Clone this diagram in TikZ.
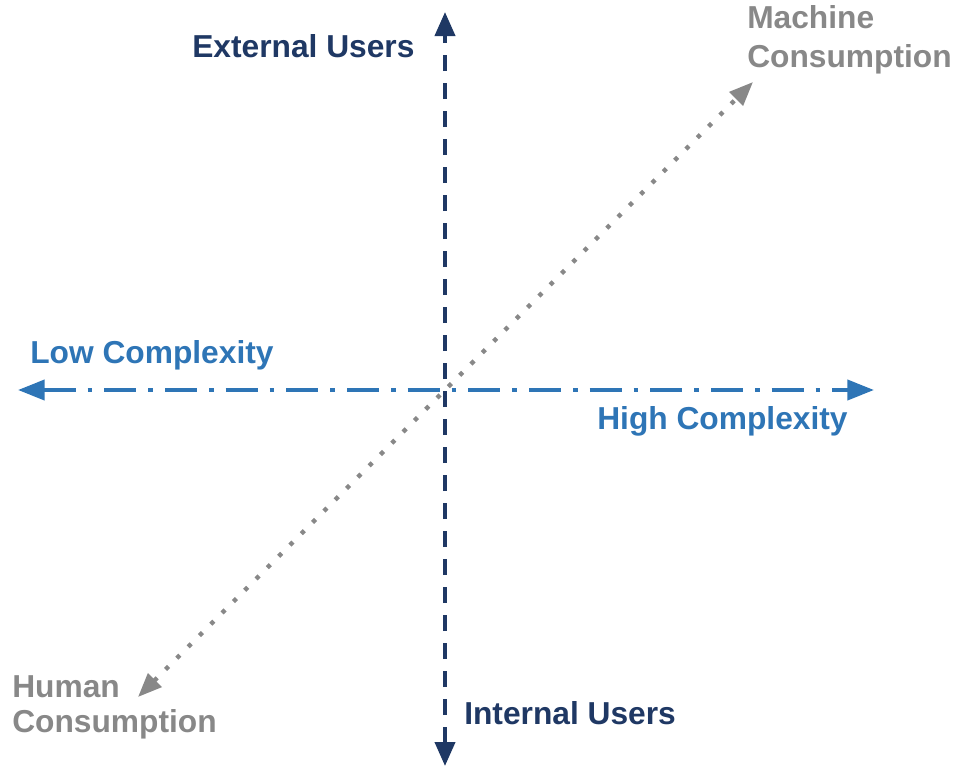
\documentclass[tikz,border=0pt]{standalone}
\usepackage{fontspec}
\setmainfont{Liberation Sans}
\usetikzlibrary{arrows.meta}
\definecolor{navy}{HTML}{1F3864}
\definecolor{axisblue}{HTML}{2E75B6}
\definecolor{axisgrey}{HTML}{888888}
\tikzset{
  lbl/.style={inner sep=0pt, font=\bfseries\fontsize{23.8pt}{29pt}\selectfont},
  vaxis/.style={draw=navy, line width=3pt, dash pattern=on 12pt off 9pt,
    {Triangle[length=18pt,width=15pt]}-{Triangle[length=18pt,width=15pt]}},
  haxis/.style={draw=axisblue, line width=3pt, dash pattern=on 24pt off 9pt on 3.5pt off 9pt,
    {Triangle[length=20pt,width=15pt]}-{Triangle[length=20pt,width=15pt]}},
  daxis/.style={draw=axisgrey, line width=3.2pt, dash pattern=on 3.2pt off 8.8pt,
    {Triangle[length=18pt,width=14pt]}-{Triangle[length=18pt,width=14pt]}}
}
\begin{document}
\begin{tikzpicture}[x=0.75pt,y=-0.75pt]
\useasboundingbox (0,0) rectangle (961,768);
\coordinate (top) at (445,12);
\coordinate (bot) at (445,766);
\coordinate (left) at (18,390);
\coordinate (right) at (874,390);
\coordinate (ne) at (753,82);
\coordinate (sw) at (138,697);
\draw[daxis] (sw) -- (ne);
\draw[haxis] (left) -- (right);
\draw[vaxis] (bot) -- (top);
\node[lbl, text=navy, anchor=base west] (ext) at (192,57) {External Users};
\node[lbl, text=navy, anchor=base west] (int) at (464,724) {Internal Users};
\node[lbl, text=axisblue, anchor=base west] (low) at (30,363) {Low Complexity};
\node[lbl, text=axisblue, anchor=base west] (high) at (597,429) {High Complexity};
\node[lbl, text=axisgrey, anchor=north west, align=left,
  font=\bfseries\fontsize{23.8pt}{29.5pt}\selectfont] (mach) at (747,5.4) {Machine\\Consumption};
\node[lbl, text=axisgrey, anchor=north west, align=left,
  font=\bfseries\fontsize{23.8pt}{26.5pt}\selectfont] (hum) at (12,675) {Human\\Consumption};
\end{tikzpicture}
\end{document}
